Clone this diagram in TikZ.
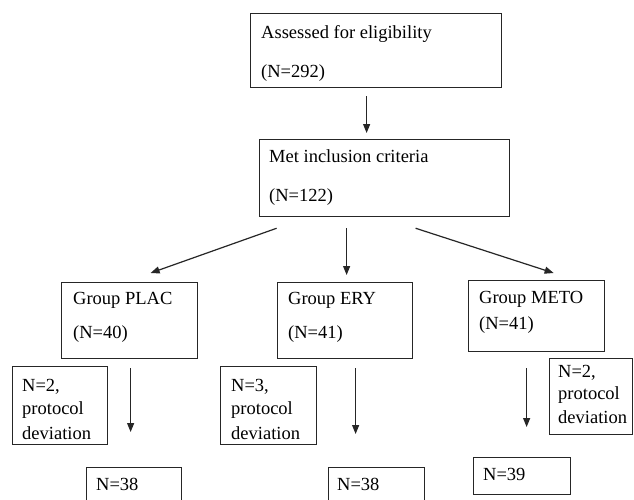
\documentclass[tikz,border=0pt]{standalone}
\usepackage{fontspec}
\setmainfont{Liberation Serif}
\usetikzlibrary{arrows.meta,calc}
\begin{document}
\begin{tikzpicture}[x=1pt,y=-1pt,
  box/.style={draw=black!85,line width=1.25pt,inner sep=0pt,anchor=north west},
  txt/.style={anchor=base west,inner sep=0pt,font=\fontsize{18.5}{22}\selectfont},
  arr/.style={draw=black!85,line width=1.2pt,-{Triangle[length=9pt,width=7pt]}}]
\useasboundingbox (0,0) rectangle (634,499);
\clip (0,0) rectangle (634,499);
\fill[white] (0,0) rectangle (634,499);
% boxes
\node[box,minimum width=251pt,minimum height=74pt] (A) at (250,13) {};
\node[box,minimum width=250pt,minimum height=77pt] (B) at (259,139) {};
\node[box,minimum width=136pt,minimum height=76pt] (P) at (61,282) {};
\node[box,minimum width=135pt,minimum height=76pt] (E) at (277,282) {};
\node[box,minimum width=136pt,minimum height=71pt] (M) at (468,280) {};
\node[box,minimum width=95pt,minimum height=78pt] (DP) at (12,366) {};
\node[box,minimum width=96pt,minimum height=78pt] (DE) at (220,366) {};
\node[box,minimum width=83pt,minimum height=76pt] (DM) at (549,358) {};
\node[box,minimum width=95pt,minimum height=50pt] (FP) at (86,467) {};
\node[box,minimum width=96pt,minimum height=50pt] (FE) at (328,467) {};
\node[box,minimum width=97pt,minimum height=37pt] (FM) at (473,457) {};
% texts
\node[txt] (a1) at (261,38) {Assessed for eligibility};
\node[txt] (a2) at (261,77) {(N=292)};
\node[txt] (b1) at (269,162) {Met inclusion criteria};
\node[txt] (b2) at (269,201) {(N=122)};
\node[txt] (p1) at (73,304) {Group PLAC};
\node[txt] (p2) at (73,338) {(N=40)};
\node[txt] (e1) at (288,304) {Group ERY};
\node[txt] (e2) at (288,338) {(N=41)};
\node[txt] (m1) at (479,303) {Group METO};
\node[txt] (m2) at (479,329) {(N=41)};
\node[txt] (dp1) at (22,391) {N=2,};
\node[txt] (dp2) at (22,414) {protocol};
\node[txt] (dp3) at (22,439) {deviation};
\node[txt] (de1) at (231,391) {N=3,};
\node[txt] (de2) at (231,414) {protocol};
\node[txt] (de3) at (231,439) {deviation};
\node[txt] (dm1) at (558,377) {N=2,};
\node[txt] (dm2) at (558,399) {protocol};
\node[txt] (dm3) at (558,423) {deviation};
\node[txt] (fp) at (96,490) {N=38};
\node[txt] (fe) at (337,490) {N=38};
\node[txt] (fm) at (483,480) {N=39};
% arrows
\draw[arr] ($(A.south)+(-9.5,8)$) -- ($(B.north)+(-18,-6)$);
\draw[arr] ($(B.south)+(-108,11)$) -- ($(P.north)+(21,-9)$);
\draw[arr] ($(B.south)+(-38,11)$) -- ($(E.north)+(1.5,-7)$);
\draw[arr] ($(B.south)+(31,11)$) -- ($(M.north)+(17,-7)$);
\draw[arr] ($(P.south)+(1,9)$) -- ($(FP.north)+(-3.5,-35)$);
\draw[arr] ($(E.south)+(10.5,9)$) -- ($(FE.north)+(-21,-33)$);
\draw[arr] ($(M.south)+(-10,16)$) -- ($(FM.north)+(4.5,-30)$);
\end{tikzpicture}
\end{document}
